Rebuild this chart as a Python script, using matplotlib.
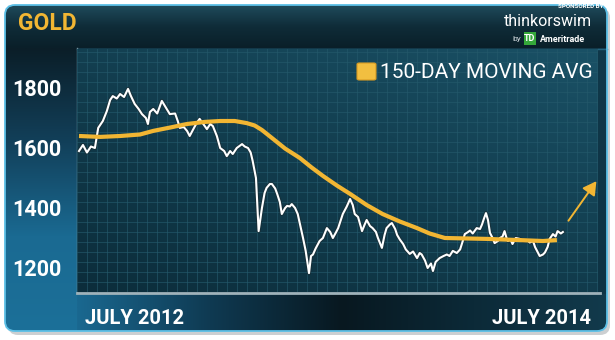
import numpy as np
import matplotlib.pyplot as plt
from matplotlib.patches import FancyBboxPatch, Rectangle, FancyArrowPatch
from matplotlib.colors import LinearSegmentedColormap
import matplotlib.patheffects as pe

plt.rcParams['font.family'] = ['Roboto', 'DejaVu Sans']

# gold price, x = days since 2 July 2012
days = [0, 6, 12, 18, 24, 29, 36, 42, 47, 51, 57, 62, 68, 74, 78, 84, 90, 95,
        101, 104, 107, 112, 118, 125, 131, 137, 145, 149, 152, 158, 163, 167,
        173, 178, 182, 189, 193, 198, 202, 208, 213, 219, 223, 228, 232, 238,
        246, 250, 255, 259, 262, 267, 271, 276, 280, 283, 288, 291, 296, 299,
        303, 306, 311, 314, 318, 321, 326, 330, 335, 338, 342, 347, 350, 353,
        357, 363, 368, 374, 379, 383, 388, 391, 395, 398, 404, 409, 413, 416,
        421, 427, 431, 434, 439, 443, 448, 451, 457, 461, 464, 469, 472, 477,
        480, 484, 489, 493, 499, 504, 510, 514, 517, 522, 526, 531, 534, 538,
        544, 550, 555, 559, 564, 570, 575, 579, 582, 587, 590, 594, 600, 605,
        608, 611, 614, 617, 620, 624, 627, 632, 635, 639, 642, 645, 647, 651,
        654, 659, 665, 670, 676, 680, 685, 688, 691, 695, 700, 703, 707, 710,
        715, 719, 722, 727, 730]
price = [1590, 1610, 1585, 1605, 1600, 1667, 1690, 1723, 1760, 1773, 1765,
         1780, 1770, 1797, 1775, 1747, 1730, 1713, 1700, 1680, 1720, 1730,
         1715, 1757, 1735, 1713, 1715, 1690, 1667, 1670, 1657, 1640, 1665,
         1685, 1697, 1675, 1663, 1680, 1673, 1640, 1600, 1590, 1573, 1590,
         1580, 1600, 1613, 1605, 1600, 1585, 1557, 1500, 1323, 1400, 1450,
         1467, 1480, 1480, 1465, 1447, 1420, 1380, 1400, 1407, 1405, 1413,
         1400, 1380, 1330, 1300, 1257, 1183, 1240, 1245, 1265, 1290, 1300,
         1333, 1320, 1300, 1320, 1333, 1360, 1380, 1405, 1430, 1410, 1380,
         1370, 1323, 1345, 1360, 1340, 1333, 1320, 1300, 1267, 1310, 1333,
         1345, 1350, 1330, 1310, 1295, 1280, 1262, 1247, 1255, 1233, 1250,
         1245, 1225, 1200, 1215, 1190, 1220, 1233, 1240, 1245, 1240, 1257,
         1250, 1262, 1290, 1313, 1320, 1325, 1315, 1333, 1330, 1345, 1365,
         1383, 1360, 1317, 1300, 1283, 1290, 1300, 1305, 1323, 1300, 1290,
         1295, 1280, 1300, 1297, 1290, 1293, 1285, 1290, 1270, 1257, 1240,
         1245, 1252, 1270, 1297, 1313, 1305, 1323, 1315, 1320]

# 150-day moving average
ma_days = [0, 32, 62, 92, 112, 137, 163, 190, 213, 235, 253, 265, 276, 293,
           311, 333, 351, 368, 389, 409, 434, 458, 484, 510, 529, 552, 615,
           665, 700, 721]
ma_price = [1640, 1637, 1640, 1645, 1657, 1668, 1680, 1687, 1690, 1690, 1683,
            1675, 1660, 1630, 1598, 1567, 1535, 1507, 1475, 1447, 1410, 1380,
            1355, 1333, 1315, 1300, 1297, 1293, 1290, 1293]

yticks = [1200, 1400, 1600, 1800]
arrow_from = (736, 1350)
arrow_to = (783, 1497)

GOLDC = '#f2b633'

fig = plt.figure(figsize=(6.15, 3.4), dpi=100)
fig.patch.set_facecolor('white')

# background / frame in pixel units
bg = fig.add_axes([0, 0, 1, 1])
bg.set_xlim(0, 615)
bg.set_ylim(340, 0)
bg.axis('off')


def grad(ax, x0, x1, y0, y1, colors, horizontal=False, clip=None, z=1):
    g = np.linspace(0, 1, 256)
    g = g.reshape(1, -1) if horizontal else g.reshape(-1, 1)
    cm = LinearSegmentedColormap.from_list('g', colors)
    im = ax.imshow(g, cmap=cm, extent=(x0, x1, y1, y0), origin='upper',
                   aspect='auto', zorder=z, interpolation='bilinear')
    if clip is not None:
        im.set_clip_path(clip)
    return im


shadow = FancyBboxPatch((8, 8), 602, 327, boxstyle='round,pad=0,rounding_size=10',
                        facecolor='#9aa0a4', edgecolor='none', alpha=0.5, zorder=0)
bg.add_patch(shadow)
panel = FancyBboxPatch((5, 5), 602, 326, boxstyle='round,pad=0,rounding_size=10',
                       facecolor='#0e2f3d', edgecolor='none', zorder=0.5)
bg.add_patch(panel)

grad(bg, 5, 607, 5, 48, ['#1f4b5c', '#0f2c38', '#0a1f29'], clip=panel)
grad(bg, 5, 77, 48, 331, ['#0b1e28', '#12405a', '#1a6a92', '#1c7099'], clip=panel)
grad(bg, 77, 607, 294, 331, ['#1a6890', '#0f3a52', '#081820', '#0c2a38', '#123a4c'],
     horizontal=True, clip=panel)
grad(bg, 598, 607, 48, 294, ['#10384a', '#0e3344'], clip=panel)

border = FancyBboxPatch((5, 5), 602, 326, boxstyle='round,pad=0,rounding_size=10',
                        facecolor='none', edgecolor='#5cbfe6', lw=1.3, zorder=5)
bg.add_patch(border)
bg.plot([77, 607], [48.5, 48.5], color='#24627e', lw=1, zorder=3)
bg.plot([77, 77], [48, 293], color='#6f8e9c', lw=1, zorder=3)
bg.plot([77, 600], [293, 293], color='#9fb2ba', lw=2, zorder=3)

# title bar texts
bg.text(18, 23, 'GOLD', color=GOLDC, fontsize=16.5, fontweight='bold',
        ha='left', va='center', zorder=6)
bg.text(603, 7, 'SPONSORED BY', color='white', fontsize=4.5, fontweight='bold',
        ha='right', va='center', zorder=6)
bg.text(548, 21, 'thinkorswim', color='white', fontsize=11.5,
        ha='center', va='center', zorder=6)
bg.text(512, 39, 'by', color='#d0d8dc', fontsize=6, ha='left', va='center', zorder=6)
bg.add_patch(Rectangle((524, 32), 12, 13, facecolor='#35a83a', edgecolor='none', zorder=6))
bg.text(530, 38.5, 'TD', color='white', fontsize=6.5, fontweight='bold',
        ha='center', va='center', zorder=7)
bg.text(540, 39, 'Ameritrade', color='white', fontsize=6.5, fontweight='bold',
        ha='left', va='center', zorder=6)

# x labels
bg.text(85, 318, 'JULY 2012', color='white', fontsize=14.5, fontweight='bold',
        ha='left', va='center', zorder=6)
bg.text(591, 318, 'JULY 2014', color='white', fontsize=14.5, fontweight='bold',
        ha='right', va='center', zorder=6)

# main chart
ax = fig.add_axes([77 / 615, (340 - 292) / 340, (598 - 77) / 615, (292 - 49) / 340])
ax.set_facecolor('none')
ax.set_xlim(-3, 783)
ax.set_ylim(1120, 1930)

yy, xx = np.mgrid[0:1:100j, 0:1:100j]
shade = 0.55 * yy + 0.45 * xx
ax.imshow(shade, cmap=LinearSegmentedColormap.from_list('p', ['#0c2d3b', '#123d4e', '#1a5166']),
          extent=(0, 1, 0, 1), transform=ax.transAxes, origin='lower',
          aspect='auto', zorder=0, interpolation='bilinear')

for gx in np.arange(-3, 790, 15.1):
    ax.axvline(gx, color='#24596b', lw=0.7, alpha=0.65, zorder=1)
for gy in np.arange(1120, 1935, 200 / 6):
    ax.axhline(gy, color='#24596b', lw=0.7, alpha=0.65, zorder=1)

ax.plot(days, price, color='white', lw=1.5, zorder=3,
        path_effects=[pe.Stroke(linewidth=3.0, foreground='#1a2a30', alpha=0.6), pe.Normal()])
ax.plot(ma_days, ma_price, color=GOLDC, lw=3, zorder=4, solid_capstyle='butt')

ax.add_patch(FancyArrowPatch(arrow_from, arrow_to, arrowstyle='-|>,head_length=8,head_width=4.5',
                             color=GOLDC, lw=1.4, zorder=5))

# legend drawn over the chart
ax.add_patch(FancyBboxPatch((357 / 615, (340 - 80) / 340), 19 / 615, 17 / 340,
                            boxstyle='round,pad=0,rounding_size=0.004',
                            transform=fig.transFigure, facecolor='#f2bf40',
                            edgecolor='#d69a22', lw=0.8, zorder=6))
fig.text(380 / 615, (340 - 72) / 340, '150-DAY MOVING AVG', color='white', fontsize=15,
         ha='left', va='center', zorder=6)

ax.set_yticks(yticks)
ax.set_yticklabels([str(v) for v in yticks])
ax.set_xticks([])
ax.tick_params(axis='y', length=0, pad=11, labelsize=15.5, labelcolor='white')
for lab in ax.get_yticklabels():
    lab.set_fontweight('bold')
for s in ax.spines.values():
    s.set_visible(False)

fig.savefig('out.png', dpi=100)
